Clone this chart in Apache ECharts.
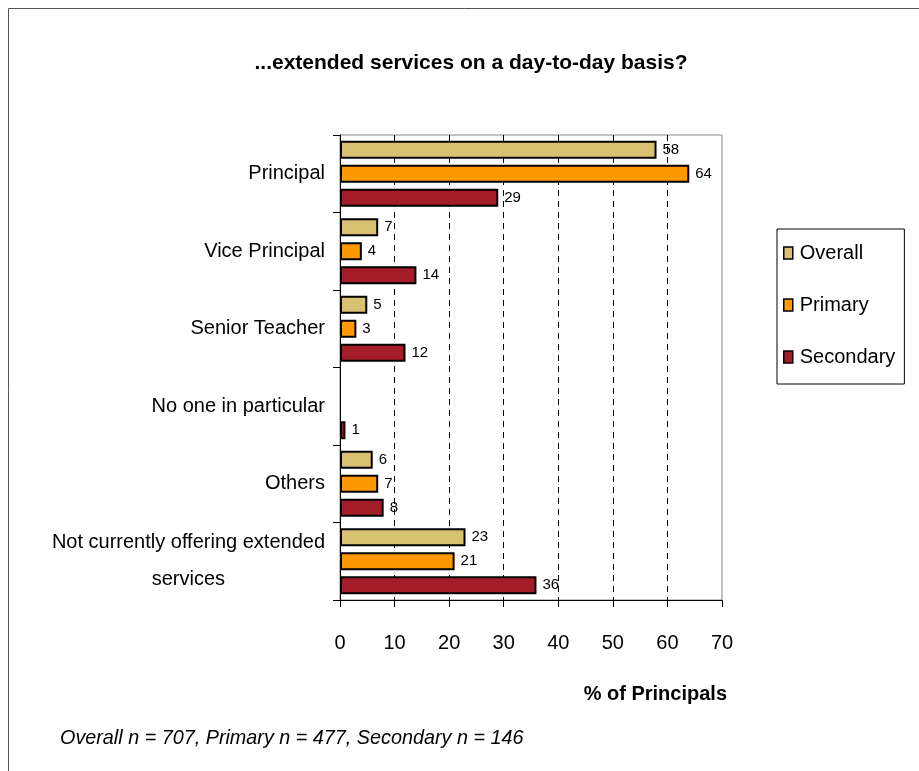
<!DOCTYPE html>
<html>
<head>
<meta charset="utf-8">
<script src="https://cdn.jsdelivr.net/npm/echarts@6/dist/echarts.min.js"></script>
<style>
  html, body { margin: 0; padding: 0; background: #fff; }
  #chart { width: 919px; height: 771px; }
</style>
</head>
<body>
<div id="chart"></div>
<script>
// Who manages extended services day to day (% of principals)
const categories = [
  'Principal',
  'Vice Principal',
  'Senior Teacher',
  'No one in particular',
  'Others',
  'Not currently offering extended services'
];
const overall   = [58, 7, 5, null, 6, 23];
const primary   = [64, 4, 3, null, 7, 21];
const secondary = [29, 14, 12, 1, 8, 36];
const xTicks = [0, 10, 20, 30, 40, 50, 60, 70];

const FONT = "'Liberation Sans', Arial, sans-serif";

const chart = echarts.init(document.getElementById('chart'));

function barSeries(name, data, color) {
  return {
    name: name,
    type: 'bar',
    data: data,
    barWidth: 18,
    barGap: '33%',
    itemStyle: { color: color, borderColor: '#000', borderWidth: 2 },
    label: {
      show: true,
      position: 'right',
      distance: 6,
      color: '#000',
      fontFamily: FONT,
      fontSize: 15
    }
  };
}

chart.setOption({
  animation: false,
  backgroundColor: '#fff',
  title: [
    {
      text: '...extended services on a day-to-day basis?',
      left: 466, top: 48, textAlign: 'center',
      textStyle: { fontFamily: FONT, fontSize: 21, fontWeight: 'bold', color: '#000' }
    },
    {
      text: '% of Principals',
      left: 722, top: 679, textAlign: 'right',
      textStyle: { fontFamily: FONT, fontSize: 20, fontWeight: 'bold', color: '#000' }
    },
    {
      text: 'Overall n = 707, Primary n = 477, Secondary n = 146',
      left: 55, top: 723,
      textStyle: { fontFamily: FONT, fontSize: 19.8, fontStyle: 'italic', fontWeight: 'normal', color: '#000' }
    }
  ],
  graphic: [
    {
      type: 'rect', silent: true, z: -1,
      shape: { x: 8.5, y: 8.5, width: 1000, height: 1000 },
      style: { fill: null, stroke: '#555', lineWidth: 1 }
    }
  ],
  legend: {
    orient: 'vertical',
    left: 777, top: 229,
    padding: [14, 9, 17, 6],
    itemGap: 32,
    itemWidth: 9, itemHeight: 12,
    icon: 'rect',
    borderColor: '#000', borderWidth: 1,
    itemStyle: { borderColor: '#000', borderWidth: 1.5 },
    textStyle: { fontFamily: FONT, fontSize: 20, color: '#000', padding: [0, 0, 0, 2] },
    data: ['Overall', 'Primary', 'Secondary']
  },
  grid: {
    left: 340, right: 197, top: 135, bottom: 171,
    show: true, borderColor: '#888', borderWidth: 1,
    containLabel: false
  },
  xAxis: {
    type: 'value',
    min: 0, max: 70, interval: 10,
    axisLine: { show: true, lineStyle: { color: '#000', width: 1 } },
    axisTick: { show: true, length: 7, lineStyle: { color: '#000' } },
    axisLabel: {
      margin: 33, color: '#000', fontFamily: FONT, fontSize: 20,
      formatter: v => xTicks.includes(v) ? String(v) : ''
    },
    splitLine: {
      show: true, showMinLine: false, showMaxLine: false,
      lineStyle: { color: '#000', type: [6, 5], width: 1 }
    }
  },
  yAxis: {
    type: 'category',
    inverse: true,
    data: categories,
    axisLine: { show: true, lineStyle: { color: '#000', width: 1 } },
    axisTick: { show: true, length: 7, lineStyle: { color: '#000' } },
    axisLabel: {
      margin: 15, color: '#000', fontFamily: FONT, fontSize: 20, lineHeight: 37,
      formatter: function (v) {
        if (v === 'Not currently offering extended services') {
          return '{a|Not currently offering extended}\n{b|services}';
        }
        return v;
      },
      rich: {
        a: { fontFamily: FONT, fontSize: 20, color: '#000', lineHeight: 37 },
        b: { fontFamily: FONT, fontSize: 20, color: '#000', lineHeight: 37, padding: [0, 100, 0, 0] }
      }
    }
  },
  series: [
    barSeries('Overall', overall, '#D8C173'),
    barSeries('Primary', primary, '#FF9900'),
    barSeries('Secondary', secondary, '#A21D28')
  ]
});
</script>
</body>
</html>
